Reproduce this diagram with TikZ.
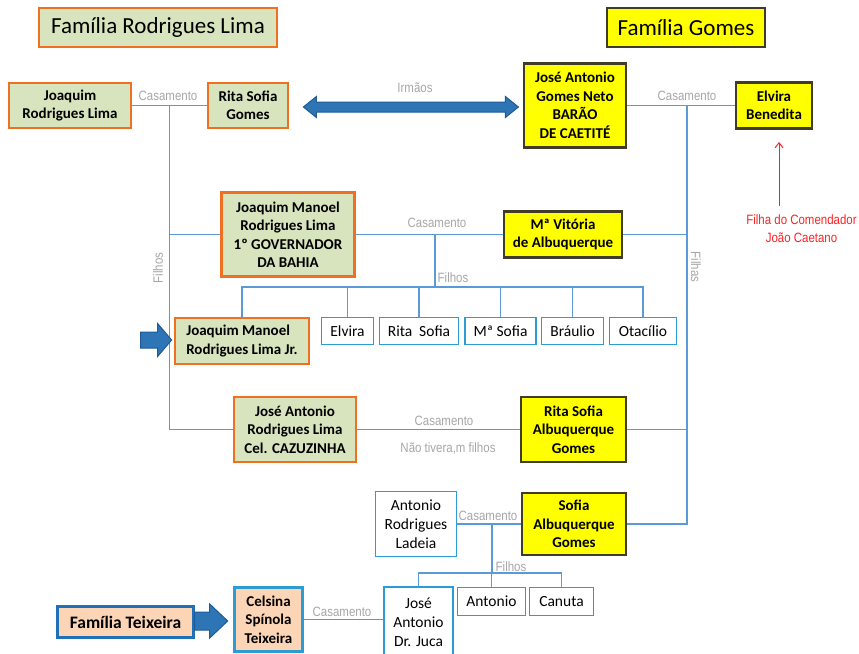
\documentclass[tikz,border=0pt]{standalone}
\usepackage{fontspec}
\setmainfont{Carlito}
\newfontfamily\lblfont[FakeStretch=0.85]{Liberation Sans}
\usetikzlibrary{calc,arrows.meta}
\definecolor{gfill}{HTML}{D7E4BD}
\definecolor{oborder}{HTML}{F07022}
\definecolor{yfill}{HTML}{FFFF00}
\definecolor{yborder}{HTML}{3F3D2A}
\definecolor{cblue}{HTML}{5B9BD5}
\definecolor{bborder}{HTML}{2E9CD4}
\definecolor{peach}{HTML}{FBD5B5}
\definecolor{tborder}{HTML}{1F70B8}
\definecolor{afill}{HTML}{2E75B6}
\definecolor{adraw}{HTML}{1F5A96}
\definecolor{lgray}{HTML}{A6A6A6}
\definecolor{redt}{HTML}{FF2020}
\begin{document}
\begin{tikzpicture}[x=1pt,y=-1pt,
 box/.style={rectangle, inner sep=0pt, align=center, font=\bfseries\fontsize{15}{18.5}\selectfont},
 gbox/.style={box, fill=gfill, draw=oborder, line width=2.8pt},
 ybox/.style={box, fill=yfill, draw=yborder, line width=2.8pt},
 wbox/.style={box, fill=white, draw=bborder, line width=1.6pt, font=\fontsize{15.5}{19}\selectfont},
 cbox/.style={box, fill=peach, draw=bborder, line width=2.6pt},
 conn/.style={draw=cblue, line width=1.1pt},
 lbl/.style={text=lgray, font=\lblfont\fontsize{13.5}{15}\selectfont, inner sep=0pt},
 barrow/.style={fill=afill, draw=adraw, line width=1pt, line join=miter},
 sz/.style 2 args={minimum width=#1pt, minimum height=#2pt},
]
\useasboundingbox (0,0) rectangle (859,653);

% headers
\node[gbox, font=\fontsize{23}{26}\selectfont, sz={238}{39}] (hrl) at (158,27.5) {Família Rodrigues Lima};
\node[ybox, font=\fontsize{23}{26}\selectfont, sz={158}{39}] (hg) at (686,27.5) {Família Gomes};

% generation 1
\node[gbox, sz={122}{45}] (jrl) at (70,105.5) {Joaquim\\Rodrigues Lima};
\node[gbox, sz={80}{45}] (rsg) at (248,105.5) {Rita Sofia\\Gomes};
\node[ybox, sz={102}{84}] (jag) at (575,105.5) {José Antonio\\Gomes Neto\\BARÃO\\DE CAETITÉ};
\node[ybox, sz={76}{46}] (elv) at (774,105.5) {Elvira\\Benedita};

% generation 2
\node[gbox, sz={133}{84}] (jmg) at (288,234.5) {Joaquim Manoel\\Rodrigues Lima\\1º GOVERNADOR\\DA BAHIA};
\node[ybox, sz={118}{46}] (mav) at (563,234.5) {Mª Vitória\\de Albuquerque};
\node[gbox, sz={122}{65}] (jar) at (295,429.5) {José Antonio\\Rodrigues Lima\\Cel. CAZUZINHA};
\node[ybox, sz={105}{65}] (rsa) at (573.5,429.5) {Rita Sofia\\Albuquerque\\Gomes};
\node[ybox, sz={104}{62}] (sag) at (574,524) {Sofia\\Albuquerque\\Gomes};
\node[wbox, sz={81}{65}] (arl) at (416,524) {Antonio\\Rodrigues\\Ladeia};

% generation 3
\node[gbox, align=left, sz={134}{46}] (jmj) at (242,341) {Joaquim Manoel\\Rodrigues Lima Jr.};
\node[wbox, sz={52}{27}] (c1) at (347.5,331) {Elvira};
\node[wbox, sz={79}{27}] (c2) at (419,331) {Rita~~Sofia};
\node[wbox, sz={71}{27}] (c3) at (500.5,331) {Mª Sofia};
\node[wbox, sz={62}{27}] (c4) at (572.5,331) {Bráulio};
\node[wbox, sz={67}{27}] (c5) at (643,331) {Otacílio};

\node[wbox, sz={69}{70}] (dju) at (418.5,622) {José\\Antonio\\Dr. Juca};
\node[wbox, sz={68}{28}] (ant) at (491.5,601.5) {Antonio};
\node[wbox, sz={64}{28}] (can) at (561.5,601.5) {Canuta};
\node[cbox, sz={68}{64}] (cst) at (268.5,619.5) {Celsina\\Spínola\\Teixeira};
\node[box, fill=peach, draw=tborder, line width=3pt, font=\bfseries\fontsize{17.5}{20}\selectfont, sz={136}{31}] (ftx) at (125.5,622) {Família Teixeira};

% connectors
\coordinate (m1) at ($(jrl.east)!0.5!(rsg.west)$);
\draw[conn] (jrl.east) -- (rsg.west);
\draw[conn] (m1) |- (jar.west);
\draw[conn] (m1 |- jmg.west) -- (jmg.west);

\coordinate (m2) at (687,105.5);
\draw[conn] (jag.east) -- (elv.west);
\draw[conn] (m2) |- (sag.east);
\draw[conn] (m2 |- mav.east) -- (mav.east);
\draw[conn] (m2 |- rsa.east) -- (rsa.east);

\coordinate (m3) at (435,234.5);
\coordinate (bar1) at (435,287);
\draw[conn] (jmg.east) -- (mav.west);
\draw[conn] (m3) -- (bar1);
\foreach \c in {jmj,c1,c2,c3,c4,c5} \draw[conn] (bar1) -| (\c.north);

\draw[conn] (jar.east) -- (rsa.west);

\coordinate (m4) at (492,524);
\coordinate (bar2) at (492,573);
\draw[conn] (arl.east) -- (sag.west);
\draw[conn] (m4) -- (bar2);
\foreach \c in {dju,ant,can} \draw[conn] (bar2) -| (\c.north);

\draw[conn] (cst.east) -- (cst.east -| dju.west);

% labels
\node[lbl] (l1) at (168,96) {Casamento};
\node[lbl] (l2) at (415,88) {Irmãos};
\node[lbl] (l3) at (687,96) {Casamento};
\node[lbl] (l4) at (437,223) {Casamento};
\node[lbl] (l5) at (453,278) {Filhos};
\node[lbl, rotate=90] (l6) at (158,268) {Filhos};
\node[lbl, rotate=-90] (l7) at (696,267) {Filhas};
\node[lbl] (l8) at (444,421) {Casamento};
\node[lbl] (l9) at (448,448) {Não tivera,m filhos};
\node[lbl] (l10) at (488,516) {Casamento};
\node[lbl] (l11) at (511,567) {Filhos};
\node[lbl] (l12) at (342,612) {Casamento};

% red note
\node[lbl, text=redt, align=center, font=\lblfont\fontsize{13.5}{18}\selectfont] (note) at (801.5,229) {Filha do Comendador\\João Caetano};
\coordinate (ra) at (779,206);
\coordinate (rb) at (779,142);
\draw[redt, line width=1pt, -{Straight Barb[length=5pt,width=8pt]}] (ra) -- (rb);

% block arrows
\draw[barrow] ($(rsg.east)+(14,1.5)$) -- ++(13,-10.5) -- ++(0,5.5) -- ++(189,0) -- ++(0,-5.5)
  -- ++(13,10.5) -- ++(-13,10.5) -- ++(0,-5.5) -- ++(-189,0) -- ++(0,5.5) -- cycle;
\draw[barrow] ($(jmj.west)+(-2,-1)$) -- ++(-14,-16.5) -- ++(0,8.5) -- ++(-17,0) -- ++(0,16)
  -- ++(17,0) -- ++(0,8.5) -- cycle;
\draw[barrow] ($(cst.west)+(-5.5,1.5)$) -- ++(-18,-17) -- ++(0,8) -- ++(-15,0) -- ++(0,18)
  -- ++(15,0) -- ++(0,8) -- cycle;
\end{tikzpicture}
\end{document}
